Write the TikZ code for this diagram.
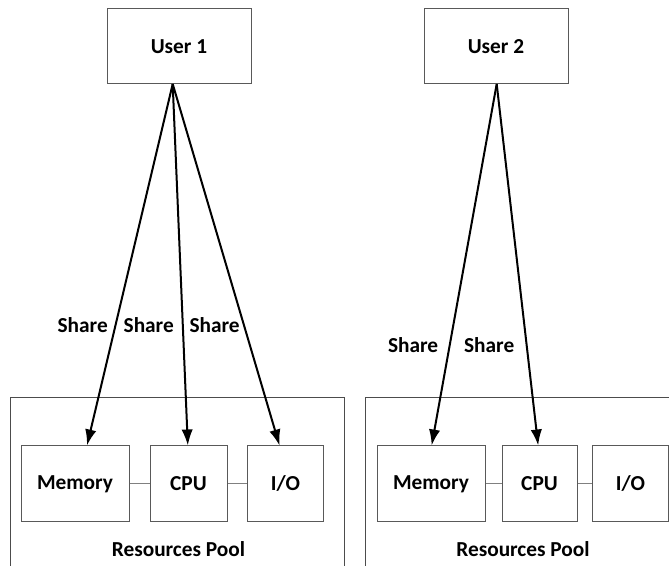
\documentclass[tikz,border=0pt]{standalone}
\usepackage{fontspec}
\setmainfont{Carlito}
\usetikzlibrary{arrows.meta}

\begin{document}
\begin{tikzpicture}[x=0.75pt, y=-0.75pt]
    % Define styles
    \tikzstyle{user} = [rectangle, minimum width=108pt, minimum height=56.25pt, text centered, draw=black!65, line width=0.75pt, font=\bfseries\fontsize{16}{19}\selectfont]
    \tikzstyle{res} = [rectangle, minimum height=57pt, text centered, draw=black!65, line width=0.75pt, font=\bfseries\fontsize{16}{19}\selectfont]
    \tikzstyle{pool} = [rectangle, minimum width=251pt, minimum height=150pt, draw=black!70, line width=0.75pt]
    \tikzstyle{poollabel} = [font=\bfseries\fontsize{16}{19}\selectfont]
    \tikzstyle{share} = [font=\bfseries\fontsize{16}{19}\selectfont, inner sep=0pt]
    \tikzstyle{arrow} = [line width=1.5pt, -{Latex[length=12pt,width=8.5pt]}]
    \tikzstyle{link} = [draw=black!50, line width=0.75pt]

    \useasboundingbox (0,0) rectangle (669,566);
    \clip (0,0) rectangle (669,566);

    % Users
    \node [user] (user1) at (179,46.5) {User 1};
    \node [user] (user2) at (496,46.5) {User 2};
    \coordinate (src1) at (172.7,84);
    \coordinate (src2) at (496.7,84);

    % Resource pools
    \node [pool] (pool1) at (177.5,498) {};
    \node [pool] (pool2) at (533,498) {};
    \node [poollabel] (label1) at (178.5,549) {Resources Pool};
    \node [poollabel] (label2) at (523,549) {Resources Pool};

    % Resources of pool 1
    \node [res, minimum width=81pt] (mem1) at (75,484) {Memory};
    \node [res, minimum width=57.75pt] (cpu1) at (188.5,484) {CPU};
    \node [res, minimum width=57pt] (io1) at (285.5,484) {I/O};

    % Resources of pool 2
    \node [res, minimum width=81pt] (mem2) at (431,484) {Memory};
    \node [res, minimum width=56.25pt] (cpu2) at (539.5,484) {CPU};
    \node [res, minimum width=57pt] (io2) at (630.5,484) {I/O};

    % Links inside the pools
    \draw [link] (mem1) -- (cpu1);
    \draw [link] (cpu1) -- (io1);
    \draw [link] (mem2) -- (cpu2);
    \draw [link] (cpu2) -- (io2);

    % Share arrows
    \draw [arrow] (src1) -- node[share, pos=0.668, left=5pt] {Share} ([xshift=9pt]mem1.north);
    \draw [arrow] (src1) -- node[share, pos=0.668, left=6pt] {Share} ([xshift=-0.5pt]cpu1.north);
    \draw [arrow] (src1) -- node[share, pos=0.668, left=2.5pt] {Share} ([xshift=-4.5pt]io1.north);
    \draw [arrow] (src2) -- node[share, pos=0.721, left=8pt] {Share} ([xshift=0.5pt]mem2.north);
    \draw [arrow] (src2) -- node[share, pos=0.721, left=8.5pt] {Share} ([xshift=-1pt]cpu2.north);
\end{tikzpicture}
\end{document}
